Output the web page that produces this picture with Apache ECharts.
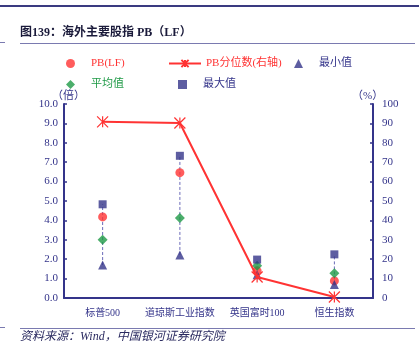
<!DOCTYPE html>
<html><head><meta charset="utf-8">
<script src="https://cdn.jsdelivr.net/npm/echarts@6/dist/echarts.min.js"></script>
<style>html,body{margin:0;padding:0;background:#fff}#c{width:419px;height:351px}</style>
</head><body><div id="c"></div>
<script>
const categories = ['标普500', '道琼斯工业指数', '英国富时100', '恒生指数'];
const pbLF = [4.18, 6.46, 1.4, 0.88];
const pbPercentile = [90.8, 90.2, 10.8, 0.5];
const minVal = [1.7, 2.22, 1.2, 0.7];
const meanVal = [3.0, 4.13, 1.66, 1.28];
const maxVal = [4.83, 7.33, 1.98, 2.25];
const leftTicks = [0, 10, 1];
const rightTicks = [0, 100, 10];

const NAVY = '#34348a';
const RED = '#ff3333';
const GREEN = '#1e9a46';
const FONT = "'Liberation Serif','Noto Sans CJK SC',serif";
const chart = echarts.init(document.getElementById('c'));

const rangeData = categories.map((c, i) => [i, minVal[i], maxVal[i]]);
const starPath = 'path://M0,0L10,10M10,0L0,10M5,0L5,10';

function leg(name, left, top, color, w, pad) {
  return { data: [name], left: left, top: top, itemWidth: w || 9, itemHeight: 9, padding: 0,
    textStyle: { color: color, fontSize: 11, fontFamily: FONT, padding: [0, 0, 0, pad == null ? 11 : pad] } };
}

chart.setOption({
  animation: false,
  textStyle: { fontFamily: FONT },
  grid: { left: 64, right: 46, top: 104, bottom: 53 },
  legend: [
    leg('PB(LF)', 66, 58, RED),
    leg('PB分位数(右轴)', 168, 58, RED, 32, 0),
    leg('最小值', 294, 58, NAVY),
    leg('平均值', 66, 79, GREEN),
    leg('最大值', 178, 79, NAVY)
  ],
  graphic: [
    { type: 'line', shape: { x1: 0, y1: 6, x2: 419, y2: 6 }, style: { stroke: '#3a3a80', lineWidth: 2 } },
    { type: 'text', left: 20, top: 27, style: { text: '图139：海外主要股指 PB（LF）', font: "bold 12px 'Liberation Serif','Noto Sans CJK SC',serif", fill: '#1a1a3a' } },
    { type: 'line', shape: { x1: 20, y1: 43.5, x2: 415, y2: 43.5 }, style: { stroke: '#7a7ab0', lineWidth: 1 } },
    { type: 'line', shape: { x1: 0, y1: 42.5, x2: 5, y2: 42.5 }, style: { stroke: '#7a7ab0', lineWidth: 1 } },
    { type: 'line', shape: { x1: 20, y1: 328.5, x2: 415, y2: 328.5 }, style: { stroke: '#7a7ab0', lineWidth: 1 } },
    { type: 'line', shape: { x1: 0, y1: 327.5, x2: 5, y2: 327.5 }, style: { stroke: '#7a7ab0', lineWidth: 1 } },
    { type: 'text', left: 20, top: 331, style: { text: '资料来源：Wind，中国银河证券研究院', font: "italic 12px 'Liberation Serif','Noto Sans CJK SC',serif", fill: '#2a2a60' } },
    { type: 'text', left: 52, top: 91, style: { text: '（倍）', font: "11px 'Liberation Serif','Noto Sans CJK SC',serif", fill: NAVY } },
    { type: 'text', left: 352, top: 91, style: { text: '（%）', font: "11px 'Liberation Serif','Noto Sans CJK SC',serif", fill: NAVY } }
  ],
  xAxis: {
    type: 'category', data: categories,
    axisLine: { lineStyle: { color: NAVY, width: 2 } },
    axisTick: { show: false },
    axisLabel: { color: NAVY, fontSize: 10, margin: 10, interval: 0, fontFamily: FONT }
  },
  yAxis: [
    { type: 'value', min: leftTicks[0], max: leftTicks[1], interval: leftTicks[2],
      axisLine: { show: true, lineStyle: { color: NAVY, width: 2 } },
      axisTick: { show: true, inside: true, length: 3, lineStyle: { color: NAVY, width: 1.5 } },
      splitLine: { show: false },
      axisLabel: { color: NAVY, fontSize: 11, margin: 6, formatter: v => v.toFixed(1), fontFamily: FONT } },
    { type: 'value', min: rightTicks[0], max: rightTicks[1], interval: rightTicks[2],
      axisLine: { show: true, lineStyle: { color: NAVY, width: 2 } },
      axisTick: { show: true, inside: true, length: 3, lineStyle: { color: NAVY, width: 1.5 } },
      splitLine: { show: false },
      axisLabel: { color: NAVY, fontSize: 11, margin: 9, fontFamily: FONT } }
  ],
  series: [
    { type: 'custom', name: 'range', data: rangeData, z: 1,
      renderItem: function (params, api) {
        const p1 = api.coord([api.value(0), api.value(1)]);
        const p2 = api.coord([api.value(0), api.value(2)]);
        return { type: 'line', shape: { x1: p1[0], y1: p1[1], x2: p2[0], y2: p2[1] },
          style: { stroke: '#6a6ab8', lineWidth: 1, lineDash: [3, 2] } };
      } },
    { type: 'scatter', name: 'PB(LF)', data: pbLF, symbol: 'circle', symbolSize: 9, z: 2,
      itemStyle: { color: RED } },
    { type: 'scatter', name: '平均值', data: meanVal, symbol: 'diamond', symbolSize: 10, z: 3,
      itemStyle: { color: GREEN } },
    { type: 'scatter', name: '最大值', data: maxVal, symbol: 'rect', symbolSize: 8, z: 3,
      itemStyle: { color: NAVY } },
    { type: 'scatter', name: '最小值', data: minVal, symbol: 'triangle', symbolSize: 9, z: 4,
      itemStyle: { color: NAVY } },
    { type: 'line', name: 'PB分位数(右轴)', yAxisIndex: 1, data: pbPercentile, z: 5,
      symbol: starPath, symbolSize: 11, showAllSymbol: true,
      lineStyle: { color: RED, width: 2 },
      itemStyle: { color: 'rgba(0,0,0,0)', borderColor: RED, borderWidth: 1.2 } }
  ]
});
</script></body></html>
